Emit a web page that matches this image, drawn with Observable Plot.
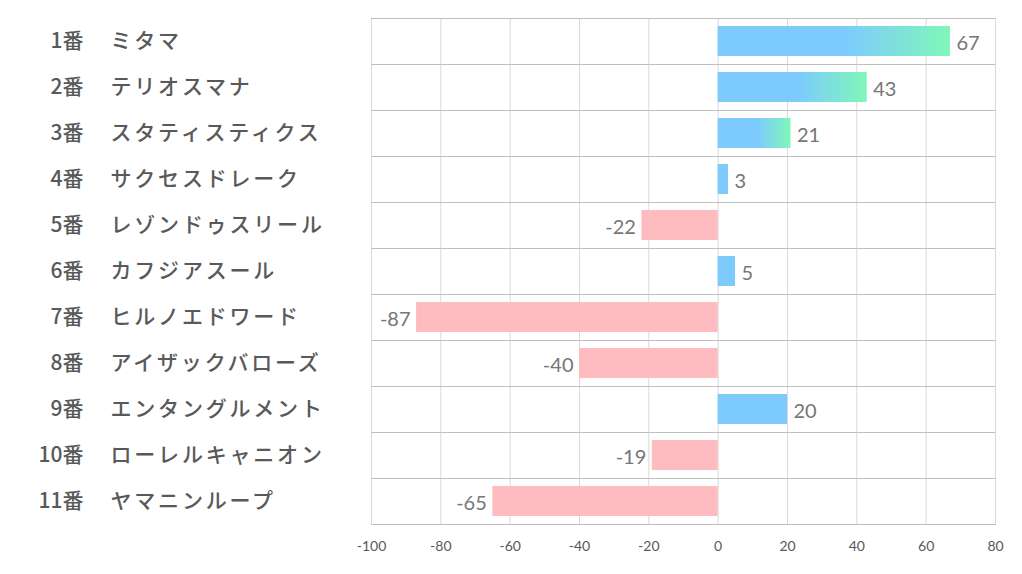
<!DOCTYPE html>
<html>
<head>
<meta charset="utf-8">
<script src="https://cdn.jsdelivr.net/npm/d3@7"></script>
<script src="https://cdn.jsdelivr.net/npm/@observablehq/plot@0.6"></script>
<style>
  html, body { margin: 0; padding: 0; background: #fff; }
  #chart svg { display: block; }
  .names text { letter-spacing: 2.8px; }
</style>
</head>
<body>
<div id="chart"></div>
<script>
const horseNumbers = [1, 2, 3, 4, 5, 6, 7, 8, 9, 10, 11];
const horseNames = ["ミタマ", "テリオスマナ", "スタティスティクス", "サクセスドレーク", "レゾンドゥスリール", "カフジアスール", "ヒルノエドワード", "アイザックバローズ", "エンタングルメント", "ローレルキャニオン", "ヤマニンループ"];
const values = [67, 43, 21, 3, -22, 5, -87, -40, 20, -19, -65];
const xTicks = [-100, -80, -60, -40, -20, 0, 20, 40, 60, 80];

const rows = horseNumbers.map((n, i) => ({key: n + "番", name: horseNames[i], value: values[i]}));
const nameOf = new Map(rows.map(d => [d.key, d.name]));
const top3 = new Set(rows.slice().sort((a, b) => b.value - a.value).slice(0, 3).map(d => d.key));

const BLUE = "#7dcbfd", GREEN = "#7ff7b8", PINK = "#ffbcc0";

const defs = () => {
  const d = d3.create("svg:defs");
  const g = d.append("linearGradient").attr("id", "posgrad").attr("x1", "0").attr("x2", "1").attr("y1", "0").attr("y2", "0");
  g.append("stop").attr("offset", "0").attr("stop-color", BLUE);
  g.append("stop").attr("offset", "0.55").attr("stop-color", BLUE);
  g.append("stop").attr("offset", "1").attr("stop-color", GREEN);
  return d.node();
};

const chart = Plot.plot({
  width: 1022,
  height: 574,
  marginLeft: 371,
  marginRight: 27,
  marginTop: 18,
  marginBottom: 50,
  style: {background: "#fff", color: "#595959", fontFamily: "Lato, 'Noto Sans', sans-serif", overflow: "visible"},
  x: {domain: [-100, 80]},
  y: {domain: rows.map(d => d.key), padding: 0},
  marks: [
    defs,
    Plot.gridX(xTicks, {stroke: "#d9d9d9", strokeOpacity: 1}),
    Plot.tickY(rows, {y: "key", dy: -23, stroke: "#bfbfbf", strokeOpacity: 1}),
    Plot.frame({anchor: "bottom", stroke: "#bfbfbf"}),
    Plot.barX(rows.filter(d => d.value < 0), {x: "value", y: "key", fill: PINK, insetTop: 8, insetBottom: 8}),
    Plot.barX(rows.filter(d => d.value >= 0 && !top3.has(d.key)), {x: "value", y: "key", fill: BLUE, insetTop: 8, insetBottom: 8}),
    Plot.barX(rows.filter(d => top3.has(d.key)), {x: "value", y: "key", fill: "url(#posgrad)", insetTop: 8, insetBottom: 8}),
    Plot.text(rows.filter(d => d.value >= 0), {x: "value", y: "key", text: d => String(d.value), textAnchor: "start", dx: 6, dy: 2, fontSize: 20, fill: "#767676"}),
    Plot.text(rows.filter(d => d.value < 0), {x: "value", y: "key", text: d => String(d.value), textAnchor: "end", dx: -6, dy: 2, fontSize: 20, fill: "#767676"}),
    Plot.axisX(xTicks, {anchor: "bottom", tickSize: 0, tickPadding: 17, fontSize: 14, fill: "#595959", label: null, tickFormat: d => String(d)}),
    Plot.axisY({anchor: "left", tickSize: 0, tickPadding: 288, textAnchor: "end", fontSize: 21, fontWeight: 500, fontFamily: "'Noto Sans CJK JP', sans-serif", fill: "#595959", label: null}),
    Plot.axisY({anchor: "left", tickSize: 0, tickPadding: 261, textAnchor: "start", fontSize: 21, fontWeight: 500, fontFamily: "'Noto Sans CJK JP', sans-serif", fill: "#595959", label: null, tickFormat: k => nameOf.get(k), className: "names"})
  ]
});
document.getElementById("chart").appendChild(chart);
</script>
</body>
</html>
